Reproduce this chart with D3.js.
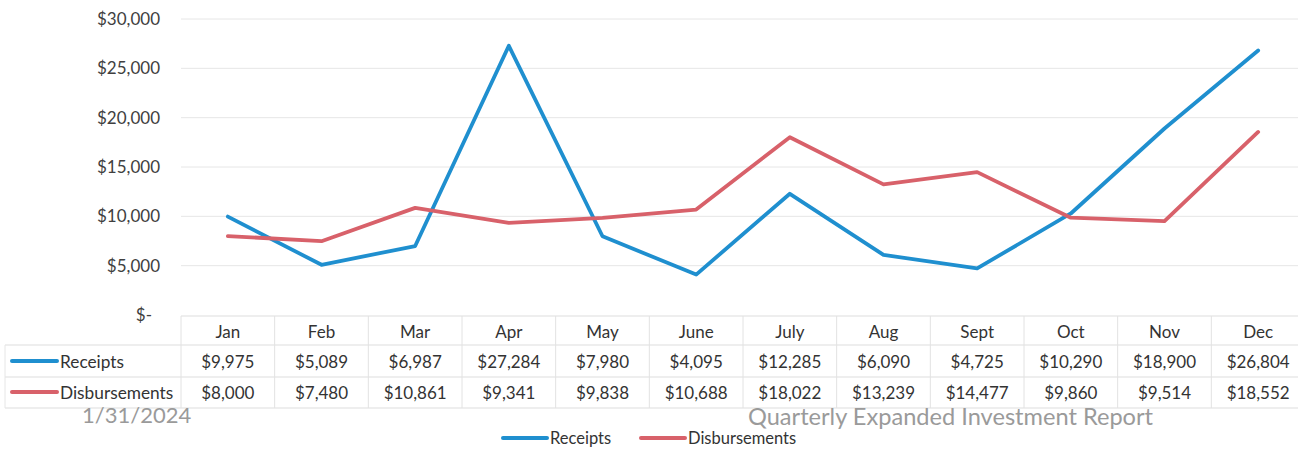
<!DOCTYPE html>
<html><head><meta charset="utf-8">
<script src="https://cdn.jsdelivr.net/npm/d3@7"></script>
<style>body{margin:0;background:#fff}svg{display:block}text{font-family:Lato,"Open Sans",sans-serif}</style>
</head><body>
<svg id="c" width="1298" height="452"></svg>
<script>
const months = ["Jan","Feb","Mar","Apr","May","June","July","Aug","Sept","Oct","Nov","Dec"];
const receipts = [9975,5089,6987,27284,7980,4095,12285,6090,4725,10290,18900,26804];
const disbursements = [8000,7480,10861,9341,9838,10688,18022,13239,14477,9860,9514,18552];
const yTicks = [0,5000,10000,15000,20000,25000,30000];
const seriesNames = ["Receipts","Disbursements"];
const colors = ["#1f8fcf","#d8616a"];
const footerLeft = "1/31/2024";
const footerRight = "Quarterly Expanded Investment Report";

const svg = d3.select("#c");
const x = d3.scaleBand().domain(months).range([181,1305]);
const y = d3.scaleLinear().domain([0,30000]).range([315,19]);
const fmt = v => v===0 ? "$-" : "$" + d3.format(",")(v);

// gridlines
svg.append("g").selectAll("line").data(yTicks.slice(1)).join("line")
  .attr("x1",181).attr("x2",1298).attr("y1",d=>y(d)).attr("y2",d=>y(d))
  .attr("stroke","#e6e6e6").attr("stroke-width",1);

// y labels
svg.append("g").selectAll("text").data(yTicks).join("text")
  .attr("x",d=>d===0?152:160).attr("y",d=>y(d)+6).attr("text-anchor","end")
  .attr("font-size",17).attr("fill","#404040").text(fmt);

// table
const tbl = svg.append("g");
const rowY = [316,345,377,408];
tbl.append("line").attr("x1",181).attr("x2",1298).attr("y1",rowY[0]).attr("y2",rowY[0]).attr("stroke","#ddd");
[1,2,3].forEach(i=>tbl.append("line").attr("x1",5).attr("x2",1298).attr("y1",rowY[i]).attr("y2",rowY[i]).attr("stroke","#ddd"));
tbl.append("line").attr("x1",5).attr("x2",5).attr("y1",rowY[1]).attr("y2",rowY[3]).attr("stroke","#e6e6e6");
tbl.selectAll("line.v").data(months).join("line").attr("class","v")
  .attr("x1",d=>x(d)).attr("x2",d=>x(d)).attr("y1",rowY[0]).attr("y2",rowY[3]).attr("stroke","#e2e2e2");
tbl.selectAll("text.h").data(months).join("text").attr("class","h")
  .attr("x",d=>x(d)+x.bandwidth()/2).attr("y",338).attr("text-anchor","middle")
  .attr("font-size",17).attr("fill","#333").text(d=>d);
[receipts,disbursements].forEach((vals,si)=>{
  const by = si===0?368:399;
  tbl.selectAll("text.r"+si).data(vals).join("text").attr("class","r"+si)
    .attr("x",(d,i)=>x(months[i])+x.bandwidth()/2).attr("y",by).attr("text-anchor","middle")
    .attr("font-size",17).attr("fill","#333").text(fmt);
  tbl.append("line").attr("x1",12).attr("x2",57).attr("y1",by-7).attr("y2",by-7)
    .attr("stroke",colors[si]).attr("stroke-width",4).attr("stroke-linecap","round");
  tbl.append("text").attr("x",60).attr("y",by).attr("font-size",17.3).attr("fill","#333").text(seriesNames[si]);
});

// lines
const line = d3.line().x((d,i)=>x(months[i])+x.bandwidth()/2).y(d=>y(d));
[receipts,disbursements].forEach((vals,si)=>{
  svg.append("path").datum(vals).attr("d",line).attr("fill","none")
    .attr("stroke",colors[si]).attr("stroke-width",3.8).attr("stroke-linejoin","round").attr("stroke-linecap","round");
});

// footer
svg.append("text").attr("x",82).attr("y",423).attr("font-size",22).attr("fill","#9a9a9a").text(footerLeft);
svg.append("text").attr("x",748).attr("y",425).attr("font-size",23.6).attr("fill","#9a9a9a").text(footerRight);

// legend
const lg = svg.append("g");
const lx = [503,641];
seriesNames.forEach((n,i)=>{
  lg.append("line").attr("x1",lx[i]).attr("x2",lx[i]+44).attr("y1",438).attr("y2",438)
    .attr("stroke",colors[i]).attr("stroke-width",4).attr("stroke-linecap","round");
  lg.append("text").attr("x",lx[i]+47).attr("y",444).attr("font-size",16.5).attr("fill","#333").text(n);
});
</script>
</body></html>
